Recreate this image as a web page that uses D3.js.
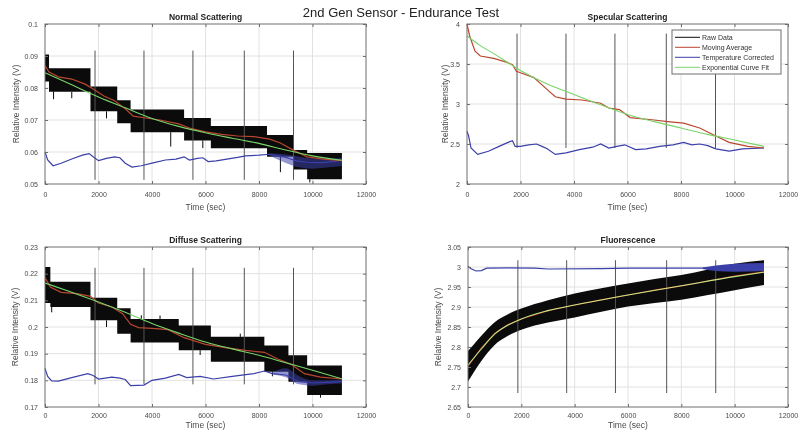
<!DOCTYPE html>
<html>
<head>
<meta charset="utf-8">
<script src="https://cdn.jsdelivr.net/npm/d3@7"></script>
<style>
  body { margin: 0; background: #fff; }
  svg { font-family: "Liberation Sans", Arial, sans-serif; display: block; }
</style>
</head>
<body>
<svg id="chart" width="801" height="436"></svg>
<script>
// shared x axis
const timeTicks = [0, 2000, 4000, 6000, 8000, 10000, 12000];
const markerTimes = [1870, 3700, 5530, 7450, 9290];
const legendLabels = ['Raw Data', 'Moving Average', 'Temperature Corrected', 'Exponential Curve Fit'];

// Normal Scattering  ([t, lo, hi] blocks for raw band, [t, v] for lines)
const normalTicks = [0.05, 0.06, 0.07, 0.08, 0.09, 0.1];
const normalMarkRange = [0.0513, 0.0917];
const normalRaw = [
  [0, 0.0820, 0.0905], [150, 0.0788, 0.0862], [1700, 0.0727, 0.0805], [2700, 0.0690, 0.0762],
  [3200, 0.0662, 0.0733], [5200, 0.0636, 0.0706], [6200, 0.0612, 0.0681], [8300, 0.0585, 0.0653],
  [9300, 0.0545, 0.0606], [9800, 0.0515, 0.0597], [11100, 0.0515, 0.0597]
];
const normalSpikes = [
  [320, 0.0765, 0.079], [1000, 0.0768, 0.0788], [2300, 0.0705, 0.0727], [4700, 0.0617, 0.0662],
  [5900, 0.0612, 0.0636], [8050, 0.0612, 0.068], [8800, 0.0537, 0.0585], [9900, 0.0505, 0.0515]
];
const normalAvg = [
  [0, 0.0870], [150, 0.0850], [500, 0.0835], [1000, 0.0828], [1500, 0.0812], [1800, 0.0797],
  [2200, 0.0775], [2600, 0.0760], [3000, 0.0735], [3300, 0.0712], [3700, 0.0707], [4300, 0.0700],
  [5000, 0.0688], [5400, 0.0675], [6000, 0.0663], [6600, 0.0655], [7200, 0.0650], [7800, 0.0648],
  [8400, 0.0640], [8800, 0.0628], [9300, 0.0605], [9800, 0.0585], [10400, 0.0578], [11100, 0.0573]
];
const normalFit = [
  [0, 0.0848], [1000, 0.0810], [2000, 0.0772], [3000, 0.0738], [4000, 0.0705], [5000, 0.0680],
  [6000, 0.0660], [7000, 0.0643], [8000, 0.0627], [9000, 0.0606], [10000, 0.0588], [11100, 0.0574]
];
const normalTemp = [
  [0, 0.0600], [100, 0.0575], [300, 0.0557], [600, 0.0565], [1000, 0.0578], [1400, 0.0590],
  [1650, 0.0595], [1800, 0.0585], [2000, 0.0573], [2300, 0.0580], [2600, 0.0585], [2800, 0.0582],
  [3000, 0.0565], [3250, 0.0553], [3600, 0.0557], [4000, 0.0565], [4500, 0.0575], [4900, 0.0578],
  [5200, 0.0585], [5400, 0.0575], [5700, 0.0580], [5900, 0.0582], [6100, 0.0570], [6400, 0.0572],
  [6800, 0.0578], [7200, 0.0583], [7500, 0.0588], [8000, 0.0590], [8400, 0.0593], [8700, 0.0588],
  [9000, 0.0583], [9400, 0.0572], [9800, 0.0568], [10300, 0.0567], [10800, 0.0570], [11100, 0.0575]
];
const normalTempBand = [
  [8400, 0.0588, 0.0596], [9000, 0.0566, 0.0592], [9500, 0.0552, 0.0585], [10000, 0.0548, 0.0580],
  [10600, 0.0552, 0.0580], [11100, 0.0556, 0.0582]
];

// Specular Scattering
const specularTicks = [2, 2.5, 3, 3.5, 4];
const specularMarkRange = [2.45, 3.88];
const specularAvg = [
  [0, 4.0], [100, 3.85], [300, 3.66], [500, 3.6], [1000, 3.57], [1500, 3.52], [1700, 3.49],
  [1850, 3.41], [2000, 3.39], [2500, 3.33], [3000, 3.18], [3300, 3.09], [3700, 3.06], [4300, 3.05],
  [5000, 3.01], [5300, 2.95], [5700, 2.93], [6100, 2.83], [7000, 2.8], [7500, 2.78], [8100, 2.76],
  [8700, 2.7], [9300, 2.6], [9800, 2.52], [10500, 2.47], [11100, 2.45]
];
const specularFit = [
  [0, 3.85], [500, 3.73], [1000, 3.63], [2000, 3.42], [3000, 3.25], [4000, 3.12], [5000, 2.99],
  [6000, 2.87], [7000, 2.78], [8000, 2.70], [9000, 2.62], [10000, 2.55], [11100, 2.47]
];
const specularTemp = [
  [0, 2.66], [60, 2.6], [150, 2.45], [400, 2.37], [800, 2.41], [1200, 2.47], [1600, 2.53],
  [1700, 2.54], [1800, 2.47], [2000, 2.47], [2300, 2.49], [2600, 2.5], [2800, 2.47], [3000, 2.44],
  [3300, 2.37], [3700, 2.39], [4200, 2.43], [4700, 2.46], [5000, 2.5], [5300, 2.45], [5600, 2.47],
  [5900, 2.49], [6300, 2.43], [6700, 2.44], [7200, 2.47], [7700, 2.49], [8100, 2.52], [8400, 2.49],
  [8700, 2.5], [9000, 2.48], [9300, 2.44], [9800, 2.41], [10300, 2.44], [11100, 2.45]
];

// Diffuse Scattering
const diffuseTicks = [0.17, 0.18, 0.19, 0.2, 0.21, 0.22, 0.23];
const diffuseMarkRange = [0.1785, 0.2222];
const diffuseRaw = [
  [0, 0.2090, 0.2225], [200, 0.2075, 0.2170], [1700, 0.2025, 0.2110], [2700, 0.1975, 0.2070],
  [3200, 0.1942, 0.2030], [5000, 0.1913, 0.2006], [6200, 0.1870, 0.1963], [8200, 0.1832, 0.1931],
  [9100, 0.1795, 0.1894], [9800, 0.1745, 0.1856], [11100, 0.1745, 0.1856]
];
const diffuseSpikes = [
  [250, 0.2055, 0.2075], [2300, 0.2000, 0.2025], [3600, 0.2030, 0.2044], [4300, 0.2030, 0.2043],
  [5800, 0.1895, 0.1913], [7300, 0.1963, 0.1975], [8500, 0.1815, 0.1832], [10300, 0.1735, 0.1745]
];
const diffuseAvg = [
  [0, 0.2185], [200, 0.2150], [600, 0.2130], [1200, 0.2125], [1700, 0.2115], [2000, 0.2090],
  [2500, 0.2075], [2900, 0.2050], [3200, 0.2010], [3500, 0.1998], [4000, 0.1995], [4600, 0.1990],
  [5200, 0.1960], [6000, 0.1935], [6800, 0.1922], [7500, 0.1912], [8200, 0.1905], [8700, 0.1880],
  [9200, 0.1860], [9700, 0.1825], [10300, 0.1812], [11100, 0.1805]
];
const diffuseFit = [
  [0, 0.2165], [1000, 0.2130], [2000, 0.2094], [3000, 0.2055], [4000, 0.2013], [5000, 0.1977],
  [6000, 0.1944], [7000, 0.1918], [8000, 0.1894], [9000, 0.1866], [10000, 0.1838], [11100, 0.1806]
];
const diffuseTemp = [
  [0, 0.1845], [100, 0.1815], [250, 0.1798], [500, 0.1797], [1000, 0.1810], [1600, 0.1825],
  [1800, 0.1818], [2000, 0.1805], [2500, 0.1812], [2800, 0.1808], [3000, 0.1803], [3200, 0.1780],
  [3700, 0.1782], [4000, 0.1800], [4500, 0.1808], [5000, 0.1822], [5300, 0.1810], [5800, 0.1815],
  [6300, 0.1805], [7000, 0.1815], [7800, 0.1825], [8200, 0.1835], [8500, 0.1825], [9000, 0.1820],
  [9500, 0.1795], [10000, 0.1790], [10500, 0.1792], [11100, 0.1795]
];
const diffuseTempBand = [
  [8500, 0.1822, 0.1830], [9000, 0.1812, 0.1845], [9500, 0.1785, 0.1815], [10000, 0.1780, 0.1800],
  [10600, 0.1785, 0.1800], [11100, 0.1788, 0.1802]
];

// Fluorescence
const fluorTicks = [2.65, 2.7, 2.75, 2.8, 2.85, 2.9, 2.95, 3, 3.05];
const fluorMarkRange = [2.685, 3.017];
const fluorRaw = [
  [0, 2.714, 2.79], [200, 2.735, 2.805], [500, 2.765, 2.828], [1000, 2.805, 2.862], [1500, 2.828, 2.882],
  [2000, 2.843, 2.896], [3000, 2.861, 2.917], [4000, 2.874, 2.934], [5000, 2.888, 2.947],
  [6000, 2.901, 2.959], [7000, 2.910, 2.970], [8000, 2.918, 2.980], [9000, 2.930, 2.994],
  [10000, 2.942, 3.008], [11100, 2.955, 3.017]
];
const fluorAvg = [
  [0, 2.752], [200, 2.77], [500, 2.797], [1000, 2.834], [1500, 2.856], [2000, 2.870], [3000, 2.891],
  [4000, 2.905], [5000, 2.918], [6000, 2.930], [7000, 2.942], [8000, 2.953], [9000, 2.965],
  [10000, 2.977], [11100, 2.988]
];
const fluorFit = [
  [0, 2.755], [500, 2.795], [1000, 2.832], [2000, 2.870], [3000, 2.891], [4000, 2.905], [6000, 2.930],
  [8000, 2.953], [10000, 2.976], [11100, 2.987]
];
const fluorTemp = [
  [0, 3.002], [100, 2.996], [300, 2.99], [500, 2.991], [700, 2.997], [1500, 2.998], [2500, 2.997],
  [3000, 2.995], [5000, 2.996], [6000, 2.997], [8000, 2.997], [9000, 2.997], [10000, 2.999], [11100, 3.0]
];
const fluorTempBand = [[8800, 2.995, 2.999], [9300, 2.99, 3.004], [10000, 2.988, 3.008], [11100, 2.99, 3.01]];

const colors = { raw: '#0b0b0b', avg: '#b9472f', temp: '#3b3fa8', fit: '#78d46a', mark: '#555', grid: '#e2e2e2', box: '#6e6e6e', text: '#4a4a4a' };

const svg = d3.select('#chart');

svg.append('text')
  .attr('x', 401).attr('y', 17)
  .attr('text-anchor', 'middle')
  .attr('font-size', 13)
  .attr('fill', '#222')
  .text('2nd Gen Sensor - Endurance Test');

const panels = [
  { title: 'Normal Scattering', left: 45, right: 366, top: 24, bottom: 184, yTicks: normalTicks,
    raw: normalRaw, rawStep: true, spikes: normalSpikes, avg: normalAvg, fit: normalFit, temp: normalTemp,
    tempBand: normalTempBand, bandOpacity: 0.55, mark: normalMarkRange, ylabOff: 29, tickPad: 8, xlabY: 210 },
  { title: 'Specular Scattering', left: 467, right: 788, top: 24, bottom: 184, yTicks: specularTicks,
    avg: specularAvg, fit: specularFit, temp: specularTemp, mark: specularMarkRange,
    ylabOff: 22, tickPad: 8, xlabY: 210, legend: true },
  { title: 'Diffuse Scattering', left: 45, right: 366, top: 247, bottom: 407, yTicks: diffuseTicks,
    raw: diffuseRaw, rawStep: true, spikes: diffuseSpikes, avg: diffuseAvg, fit: diffuseFit, temp: diffuseTemp,
    tempBand: diffuseTempBand, bandOpacity: 0.55, mark: diffuseMarkRange, ylabOff: 30, tickPad: 6, xlabY: 428 },
  { title: 'Fluorescence', left: 468, right: 788, top: 247, bottom: 407, yTicks: fluorTicks,
    raw: fluorRaw, avg: fluorAvg, fit: fluorFit, temp: fluorTemp, tempBand: fluorTempBand, bandOpacity: 1,
    blendFit: true, mark: fluorMarkRange, ylabOff: 30, tickPad: 6, xlabY: 428 }
];

panels.forEach(drawPanel);

function drawPanel(p) {
  const x = d3.scaleLinear().domain([0, 12000]).range([p.left, p.right]);
  const y = d3.scaleLinear().domain([p.yTicks[0], p.yTicks[p.yTicks.length - 1]]).range([p.bottom, p.top]);
  const g = svg.append('g');

  g.append('rect')
    .attr('x', p.left).attr('y', p.top)
    .attr('width', p.right - p.left).attr('height', p.bottom - p.top)
    .attr('fill', '#fff');

  // grid
  g.append('g').selectAll('line').data(timeTicks.slice(1, -1)).join('line')
    .attr('x1', d => x(d)).attr('x2', d => x(d))
    .attr('y1', p.top).attr('y2', p.bottom)
    .attr('stroke', colors.grid);
  g.append('g').selectAll('line').data(p.yTicks.slice(1, -1)).join('line')
    .attr('x1', p.left).attr('x2', p.right)
    .attr('y1', d => y(d)).attr('y2', d => y(d))
    .attr('stroke', colors.grid);

  // raw data band
  if (p.raw) {
    const band = d3.area()
      .curve(p.rawStep ? d3.curveStepAfter : d3.curveMonotoneX)
      .x(d => x(d[0])).y0(d => y(d[1])).y1(d => y(d[2]));
    g.append('path').datum(p.raw).attr('d', band).attr('fill', colors.raw);
  }
  if (p.spikes) {
    g.append('g').selectAll('line').data(p.spikes).join('line')
      .attr('x1', d => x(d[0])).attr('x2', d => x(d[0]))
      .attr('y1', d => y(d[1])).attr('y2', d => y(d[2]))
      .attr('stroke', colors.raw).attr('stroke-width', 1);
  }

  // event markers
  g.append('g').selectAll('line').data(markerTimes).join('line')
    .attr('x1', d => x(d)).attr('x2', d => x(d))
    .attr('y1', y(p.mark[0])).attr('y2', y(p.mark[1]))
    .attr('stroke', colors.mark).attr('stroke-width', 1);

  const line = d3.line().x(d => x(d[0])).y(d => y(d[1]));
  const smooth = d3.line().curve(d3.curveMonotoneX).x(d => x(d[0])).y(d => y(d[1]));

  if (p.tempBand) {
    g.append('path').datum(p.tempBand)
      .attr('d', d3.area().curve(d3.curveMonotoneX).x(d => x(d[0])).y0(d => y(d[1])).y1(d => y(d[2])))
      .attr('fill', colors.temp).attr('fill-opacity', p.bandOpacity);
  }
  g.append('path').datum(p.temp).attr('d', line)
    .attr('fill', 'none').attr('stroke', colors.temp).attr('stroke-width', 1.2);
  g.append('path').datum(p.avg).attr('d', line)
    .attr('fill', 'none').attr('stroke', colors.avg).attr('stroke-width', 1.2);
  g.append('path').datum(p.fit).attr('d', smooth)
    .attr('fill', 'none').attr('stroke', colors.fit).attr('stroke-width', 1.1)
    .style('mix-blend-mode', p.blendFit ? 'screen' : null);

  // box + inward ticks
  const axes = [
    [d3.axisBottom(x).tickValues(timeTicks).tickFormat(d => String(d)), `translate(0,${p.bottom})`],
    [d3.axisTop(x).tickValues(timeTicks).tickFormat(''), `translate(0,${p.top})`],
    [d3.axisLeft(y).tickValues(p.yTicks).tickFormat(d => String(d)), `translate(${p.left},0)`],
    [d3.axisRight(y).tickValues(p.yTicks).tickFormat(''), `translate(${p.right},0)`]
  ];
  axes.forEach(([ax, tr], i) => {
    ax.tickSizeInner(-3).tickSizeOuter(0).tickPadding(i === 0 ? p.tickPad : 7);
    const a = g.append('g').attr('transform', tr).call(ax);
    a.select('.domain').remove();
    a.selectAll('line').attr('stroke', colors.box);
    a.selectAll('text').attr('font-size', 7).attr('fill', colors.text)
      .attr('font-family', '"Liberation Sans", Arial, sans-serif');
  });
  g.append('rect')
    .attr('x', p.left).attr('y', p.top)
    .attr('width', p.right - p.left).attr('height', p.bottom - p.top)
    .attr('fill', 'none').attr('stroke', colors.box).attr('stroke-width', 1);

  g.append('text')
    .attr('x', (p.left + p.right) / 2).attr('y', p.top - 4)
    .attr('text-anchor', 'middle').attr('font-size', 8.5).attr('font-weight', 'bold')
    .attr('fill', '#222').text(p.title);
  g.append('text')
    .attr('x', (p.left + p.right) / 2).attr('y', p.xlabY)
    .attr('text-anchor', 'middle').attr('font-size', 8.5)
    .attr('fill', colors.text).text('Time (sec)');
  g.append('text')
    .attr('transform', `translate(${p.left - p.ylabOff},${(p.top + p.bottom) / 2}) rotate(-90)`)
    .attr('dy', '0.35em')
    .attr('text-anchor', 'middle').attr('font-size', 8.5)
    .attr('fill', colors.text).text('Relative Intensity (V)');

  if (p.legend) {
    const lg = g.append('g');
    lg.append('rect').attr('x', 672).attr('y', 30).attr('width', 109).attr('height', 44)
      .attr('fill', '#fff').attr('stroke', colors.box);
    const lc = [colors.raw, colors.avg, colors.temp, colors.fit];
    const row = lg.selectAll('g').data(legendLabels).join('g')
      .attr('transform', (d, i) => `translate(675,${37.3 + i * 10})`);
    row.append('line').attr('x1', 0).attr('x2', 25)
      .attr('stroke', (d, i) => lc[i]).attr('stroke-width', 1);
    row.append('text').attr('x', 27).attr('dy', '0.35em')
      .attr('font-size', 7).attr('fill', '#333').text(d => d);
  }
}
</script>
</body>
</html>
